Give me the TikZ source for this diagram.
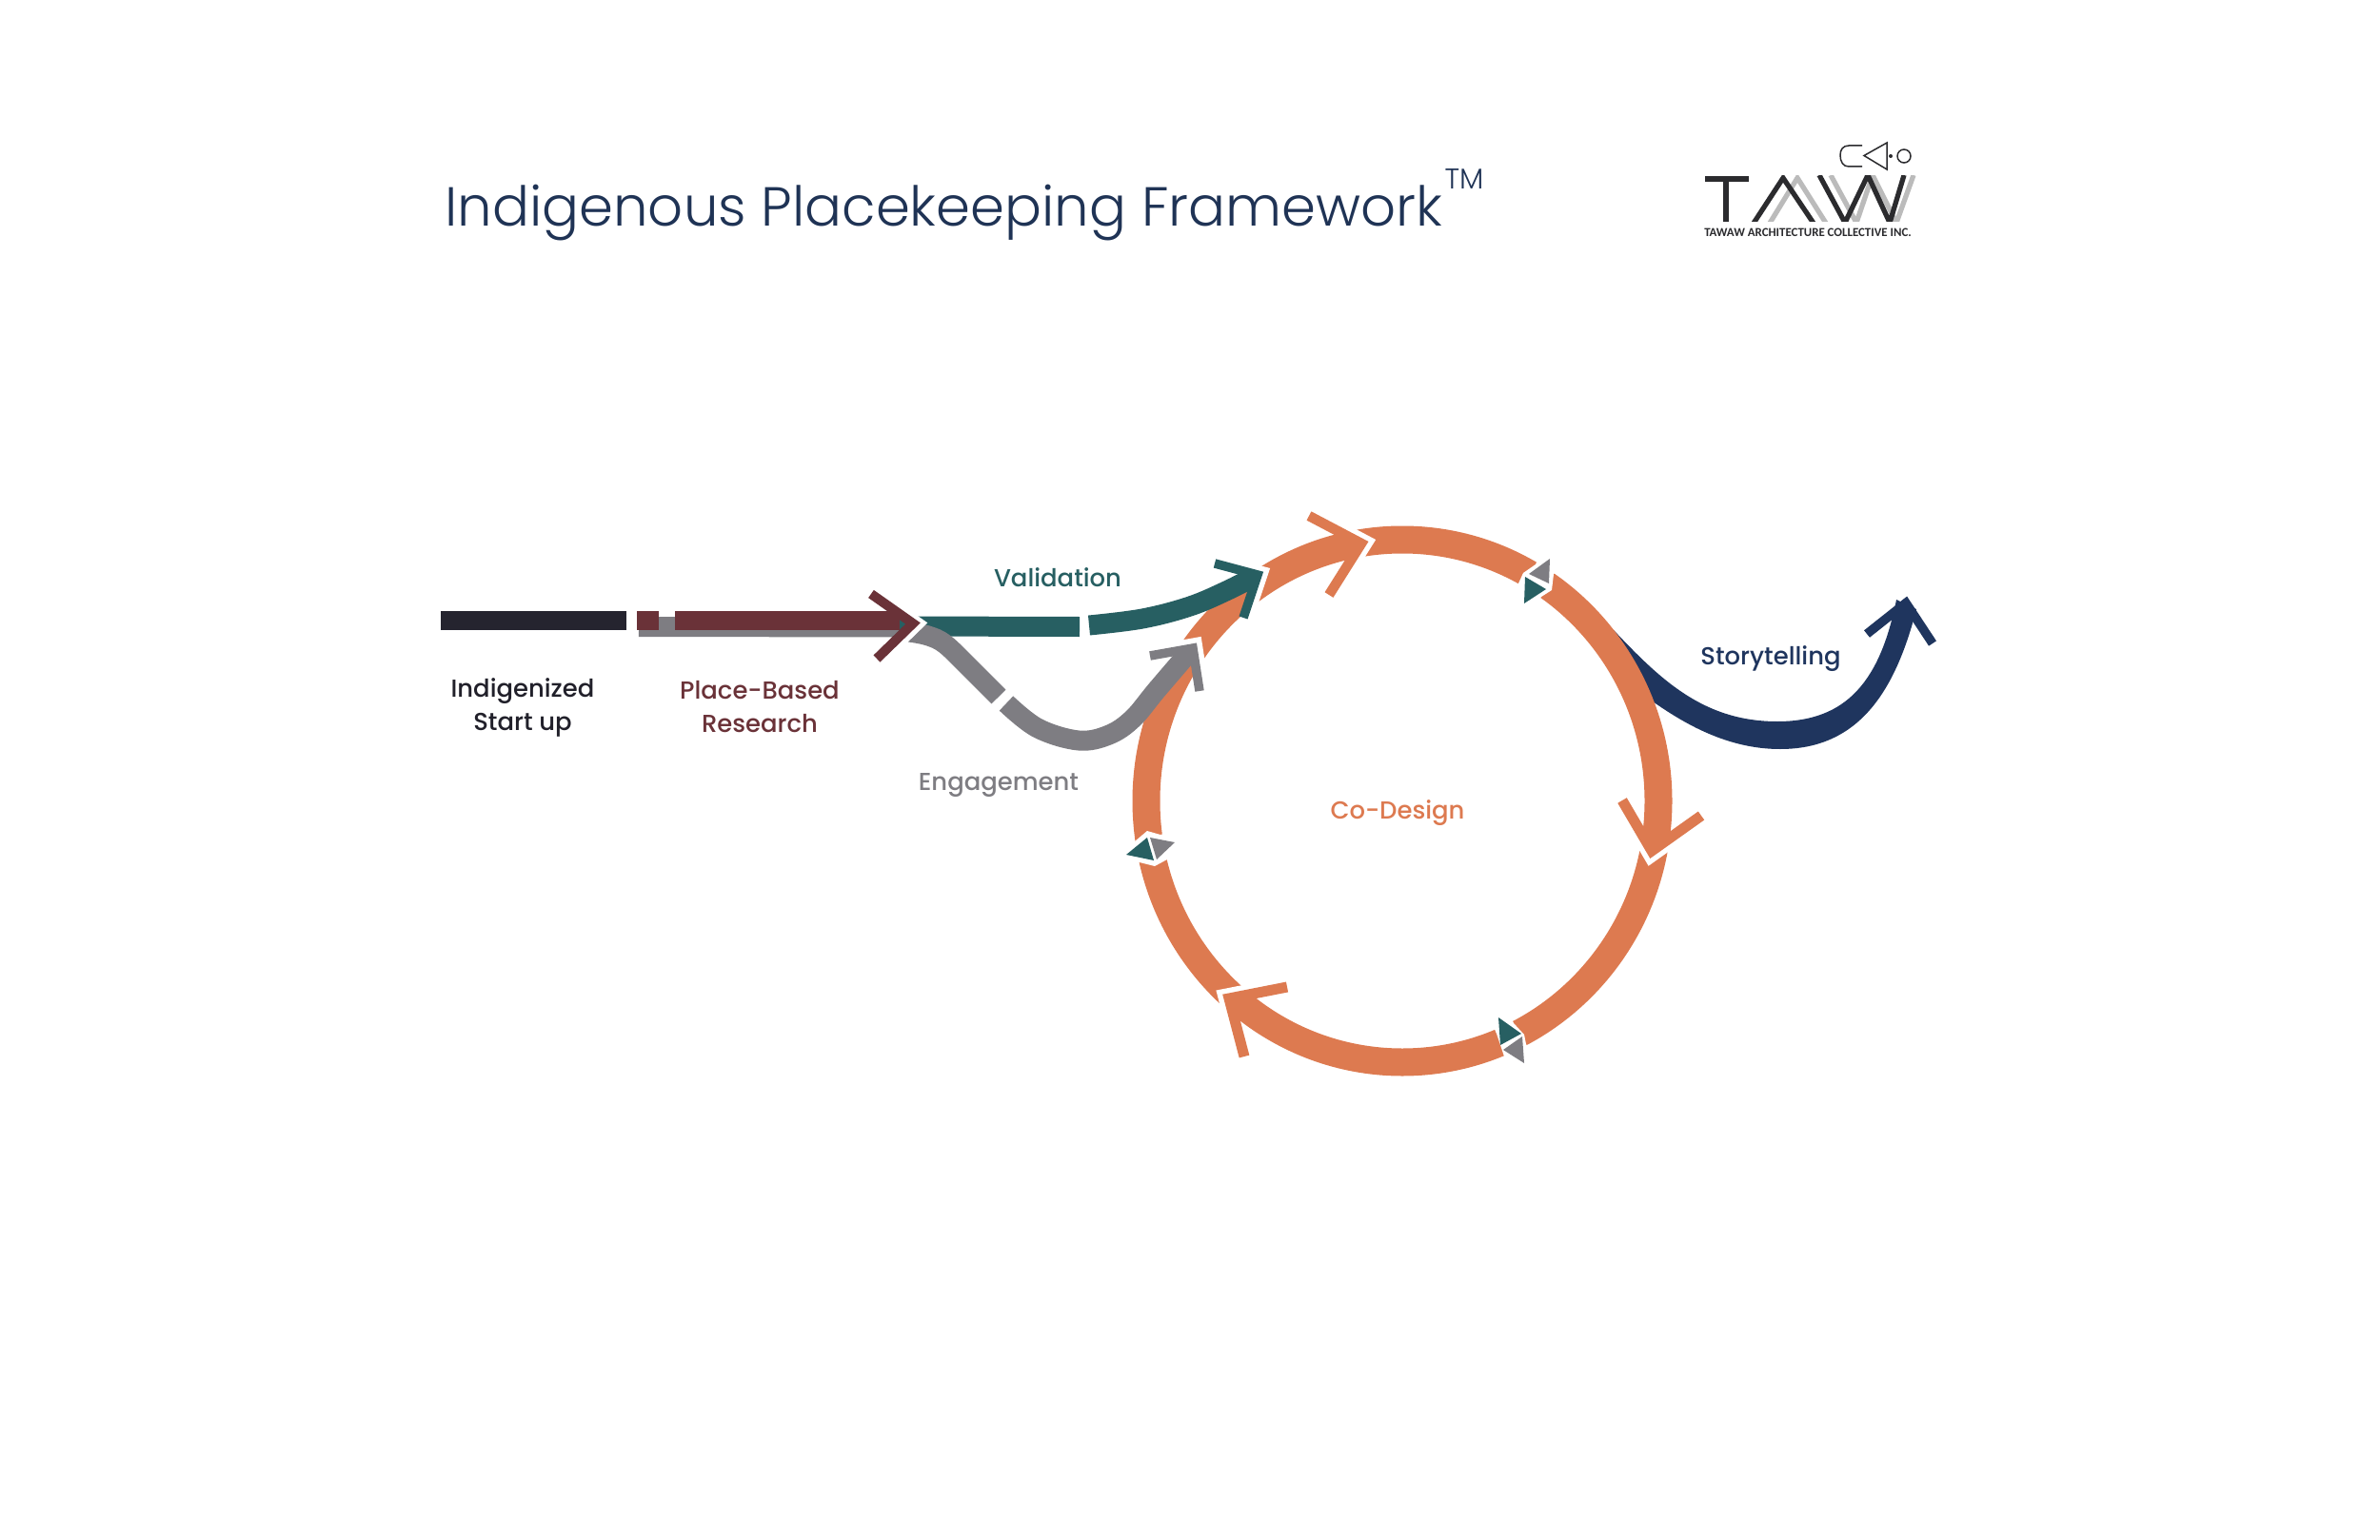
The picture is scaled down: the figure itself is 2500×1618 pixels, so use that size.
\documentclass[tikz,border=0pt]{standalone}
\usepackage{fontspec}
\setmainfont{Poppins Medium}
\newfontfamily\titlefont{Poppins Light}
\newfontfamily\logofont{Carlito}
\definecolor{orangeC}{HTML}{DD7A50}
\definecolor{tealC}{HTML}{275F62}
\definecolor{maroonC}{HTML}{6A3238}
\definecolor{greyC}{HTML}{7E7D82}
\definecolor{darkC}{HTML}{25242F}
\definecolor{navyC}{HTML}{1F355E}
\definecolor{titleC}{HTML}{1F3355}
\definecolor{logoG}{HTML}{BBBBBB}
\definecolor{logoD}{HTML}{2B2B2E}
\tikzset{
  shaft/.style={line width=8.4pt,line cap=butt},
  label/.style={anchor=base,inner sep=0pt,align=center,font=\fontsize{10.35}{14}\selectfont},
  headline/.style={line width=#1,line join=miter,miter limit=10,line cap=butt},
  logoline/.style={line width=2.1pt,line join=miter,miter limit=20},
}
% barb, vertex, barb, colour, forward shift, width
\newcommand\headwithgap[6]{%
  \draw[white,headline=#6] ([shift={(#5)}]#1) -- ([shift={(#5)}]#2) -- ([shift={(#5)}]#3);
  \draw[#4,headline=#6] (#1) -- (#2) -- (#3);}
\begin{document}
\begin{tikzpicture}[x=0.4pt,y=-0.4pt]
\useasboundingbox (0,0) rectangle (2500,1618);
\fill[white] (0,0) rectangle (2500,1618);
% title
\node[anchor=base west,inner sep=0pt,text=titleC,font=\titlefont\fontsize{23.1}{28}\selectfont] (title) at (467,238) {Indigenous Placekeeping Framework};
\node[anchor=base west,inner sep=0pt,text=titleC,font=\titlefont\fontsize{12}{14}\selectfont] (tm) at (1517,199) {TM};
% logo
\begin{scope}
\clip (1785,185) rectangle (2015,233);
\draw[logoG,logoline] (1858,236) -- (1888,187) -- (1919,236);
\draw[logoG,logoline] (1923,184) -- (1950,234) -- (1967,184) -- (1992,234) -- (2010,184);
\draw[logoD,logoline] (1841,236) -- (1873,187) -- (1906,236);
\draw[logoD,logoline] (1911,184) -- (1938,234) -- (1962,184) -- (1985,234) -- (2000,184);
\end{scope}
\draw[logoD,line width=2.1pt] (1791,188) -- (1837,188) (1813,188) -- (1813,233);
\draw[logoD,line width=0.6pt] (1956,153) -- (1942,153) .. controls (1936,153) and (1933,157) .. (1933,163) .. controls (1933,170) and (1936,175) .. (1942,175) -- (1956,175);
\draw[logoD,line width=0.6pt] (1982,150) -- (1958,163.5) -- (1982,178) -- cycle;
\fill[logoD] (1986,164) circle (2);
\draw[logoD,line width=0.6pt] (2000,164) circle (7);
\node[anchor=base,inner sep=0pt,text=logoD] (logotext) at (1899,249) {\resizebox{87pt}{!}{\logofont\bfseries TAWAW ARCHITECTURE COLLECTIVE INC.}};
% storytelling ribbon
\fill[navyC] (1695,662) .. controls (1745,715) and (1790,758) .. (1867,758) .. controls (1940,758) and (1975,715) .. (1992,630)
  -- (2013,640) .. controls (1990,730) and (1950,787) .. (1870,787) .. controls (1800,787) and (1745,745) .. (1700,710) -- cycle;
\draw[navyC,headline=3.8pt] (1961,666) -- (2002,633.5) -- (2030,676);
% ring
\draw[orangeC,line width=11.6pt] (1473,841.5) ellipse [x radius=269,y radius=274.5];
% marker gaps
\fill[white] (1170,890) -- (1192,884) -- (1205,873) -- (1219,877) -- (1240,870) -- (1240,905) -- (1226,903) -- (1213,910) -- (1197,906) -- (1170,912) -- cycle;
\fill[white] (1620,578) -- (1613,593) -- (1600,602) -- (1595,613) -- (1585,630) -- (1608,642) -- (1619,627) -- (1630,620) -- (1632,603) -- (1645,590) -- cycle;
\fill[white] (1583,1060) -- (1590,1075) -- (1601,1087) -- (1603,1097) -- (1612,1115) -- (1585,1125) -- (1580,1110) -- (1572,1086) -- (1565,1070) -- cycle;
% ring arrowheads
\headwithgap{1375,542}{1430,571}{1396,625}{orangeC}{7.7,-2}{4.2pt}
\headwithgap{1704,841}{1735,894}{1787,857}{orangeC}{-1.7,7.8}{4.4pt}
\headwithgap{1352,1037}{1291,1049}{1307,1110}{orangeC}{-6.8,-4.2}{4.4pt}
% markers
\fill[greyC] (1628,587) -- (1627,613) -- (1606,603) -- cycle;
\fill[tealC] (1602,606) -- (1624,619) -- (1601,634) -- cycle;
\fill[tealC] (1183,898) -- (1205,880) -- (1212,904) -- cycle;
\fill[greyC] (1208,880) -- (1234,885) -- (1215,903) -- cycle;
\fill[tealC] (1574,1069) -- (1598,1086) -- (1576,1098) -- cycle;
\fill[greyC] (1599,1089) -- (1601,1117) -- (1579,1103) -- cycle;
% start bar
\draw[darkC,line width=8pt] (463,652) -- (658,652);
% grey strip and maroon
\draw[greyC,line width=8.4pt] (671,658.5) -- (948,659);
\draw[maroonC,line width=8pt] (669,652) -- (692,652);
\draw[maroonC,line width=8pt] (709,652) -- (955,652);
% validation
\draw[tealC,shaft] (945,658) -- (1134,658.5);
\draw[tealC,shaft] plot[smooth,tension=0.6] coordinates {(1144,657) (1200,650) (1250,637) (1290,620) (1321,604)};
\headwithgap{1276,592}{1321,604}{1306,649}{tealC}{7,-3.7}{3.8pt}
% engagement
\draw[greyC,shaft] plot[smooth,tension=0.6] coordinates {(955,664) (975,668) (993,677) (1020,703) (1049,732)};
\draw[greyC,shaft] plot[smooth,tension=0.6] coordinates {(1057,739) (1090,765) (1133,778) (1165,772) (1190,755) (1215,725) (1251,683)};
\headwithgap{1208,689}{1253,681}{1260,726}{greyC}{4.7,-6.6}{3.8pt}
% place-based head
\headwithgap{915,624}{959,655}{921,692}{maroonC}{7.5,0}{4pt}
% labels
\node[label,text=darkC!90!black] (startup) at (549,767) {Indigenized\\Start up};
\node[label,text=maroonC] (research) at (798,769) {Place-Based\\Research};
\node[label,text=tealC] (validation) at (1111,616) {Validation};
\node[label,text=greyC] (engagement) at (1049,830) {Engagement};
\node[label,text=orangeC] (codesign) at (1468,860) {Co-Design};
\node[label,text=navyC] (story) at (1860,698) {Storytelling};
\end{tikzpicture}
\end{document}
